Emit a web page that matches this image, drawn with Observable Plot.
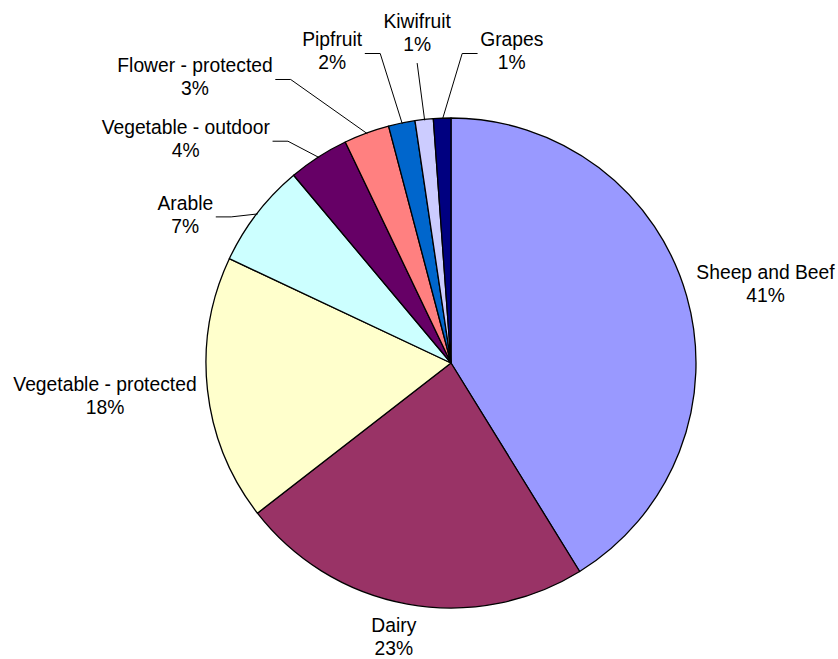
<!DOCTYPE html>
<html>
<head>
<meta charset="utf-8">
<script src="https://cdn.jsdelivr.net/npm/d3@7"></script>
<script src="https://cdn.jsdelivr.net/npm/@observablehq/plot@0.6"></script>
<style>
  html, body { margin: 0; padding: 0; background: #fff; }
</style>
</head>
<body>
<div id="chart"></div>
<script>
// ---- data ----
const categories = ["Sheep and Beef", "Dairy", "Vegetable - protected", "Arable", "Vegetable - outdoor", "Flower - protected", "Pipfruit", "Kiwifruit", "Grapes"];
const shares = [41.2, 23.3, 17.5, 6.9, 4.0, 3.0, 1.75, 1.2, 1.15];

// ---- style ----
const colors = ["#9999FF", "#993366", "#FFFFCC", "#CCFFFF", "#660066", "#FF8080", "#0066CC", "#CCCCFF", "#000080"];

// ---- layout (label anchors in pie radii from the centre, y up) ----
const labelX = [1.2816, -0.2355, -1.4143, -1.0865, -1.0845, -1.0469, -0.4869, -0.1400, 0.2461];
const labelY = [0.3167, -1.1240, -0.1404, 0.5984, 0.9073, 1.1592, 1.2653, 1.3400, 1.2653];
const leaderKind = ["none", "none", "none", "side", "side", "side", "side", "below", "side"];

const W = 838, H = 659;
const CX = 451, CY = 363, R = 245;   // pie frame in pixels
const FONT = 19.3, LH = 1.2;

const rows = categories.map((c, i) => ({
  category: c,
  value: shares[i],
  color: colors[i],
  text: `${c}\n${Math.round(shares[i])}%`,
  lx: labelX[i],
  ly: labelY[i],
  leader: leaderKind[i]
}));

const arcs = d3.pie().sort(null).value(d => d.value)(rows);

// measure text to attach leader lines to label edges
const ctx = document.createElement("canvas").getContext("2d");
ctx.font = `${FONT}px "Liberation Sans", Arial, sans-serif`;
const leaderPts = [];
arcs.forEach((a, i) => {
  const d = a.data;
  if (d.leader === "none") return;
  const mid = (a.startAngle + a.endAngle) / 2;
  const ax = Math.sin(mid), ay = Math.cos(mid);
  if (d.leader === "side") {
    const w = Math.max(...d.text.split("\n").map(t => ctx.measureText(t).width));
    const dir = ax > d.lx ? 1 : -1;
    const sx = d.lx + dir * (w / 2 + 3) / R;
    const ex = sx + dir * 15 / R;
    leaderPts.push({k: i, x: sx, y: d.ly}, {k: i, x: ex, y: d.ly}, {k: i, x: ax, y: ay});
  } else {
    const sy = d.ly - (FONT * LH * 1.22) / R;
    leaderPts.push({k: i, x: d.lx, y: sy}, {k: i, x: ax, y: ay});
  }
});

function pieMark(index, scales) {
  const x0 = scales.x(0), y0 = scales.y(0);
  const r = scales.x(1) - scales.x(0);
  const arc = d3.arc().innerRadius(0).outerRadius(r);
  const g = d3.create("svg:g").attr("transform", `translate(${x0},${y0})`);
  g.selectAll("path")
    .data(arcs)
    .join("path")
    .attr("d", arc)
    .attr("fill", d => d.data.color)
    .attr("stroke", "#000")
    .attr("stroke-width", 1.3)
    .attr("stroke-linejoin", "round");
  return g.node();
}

const chart = Plot.plot({
  width: W,
  height: H,
  margin: 0,
  style: {fontFamily: '"Liberation Sans", Arial, sans-serif', fontSize: FONT + "px", background: "#fff", color: "#000"},
  x: {domain: [-CX / R, (W - CX) / R], axis: null},
  y: {domain: [-(H - CY) / R, CY / R], axis: null},
  marks: [
    pieMark,
    Plot.line(leaderPts, {x: "x", y: "y", z: "k", stroke: "#000", strokeWidth: 1}),
    Plot.text(rows, {x: "lx", y: "ly", text: "text", fontSize: FONT, lineHeight: LH, fill: "#000", textAnchor: "middle", dy: -3})
  ]
});

document.getElementById("chart").appendChild(chart);
</script>
</body>
</html>
